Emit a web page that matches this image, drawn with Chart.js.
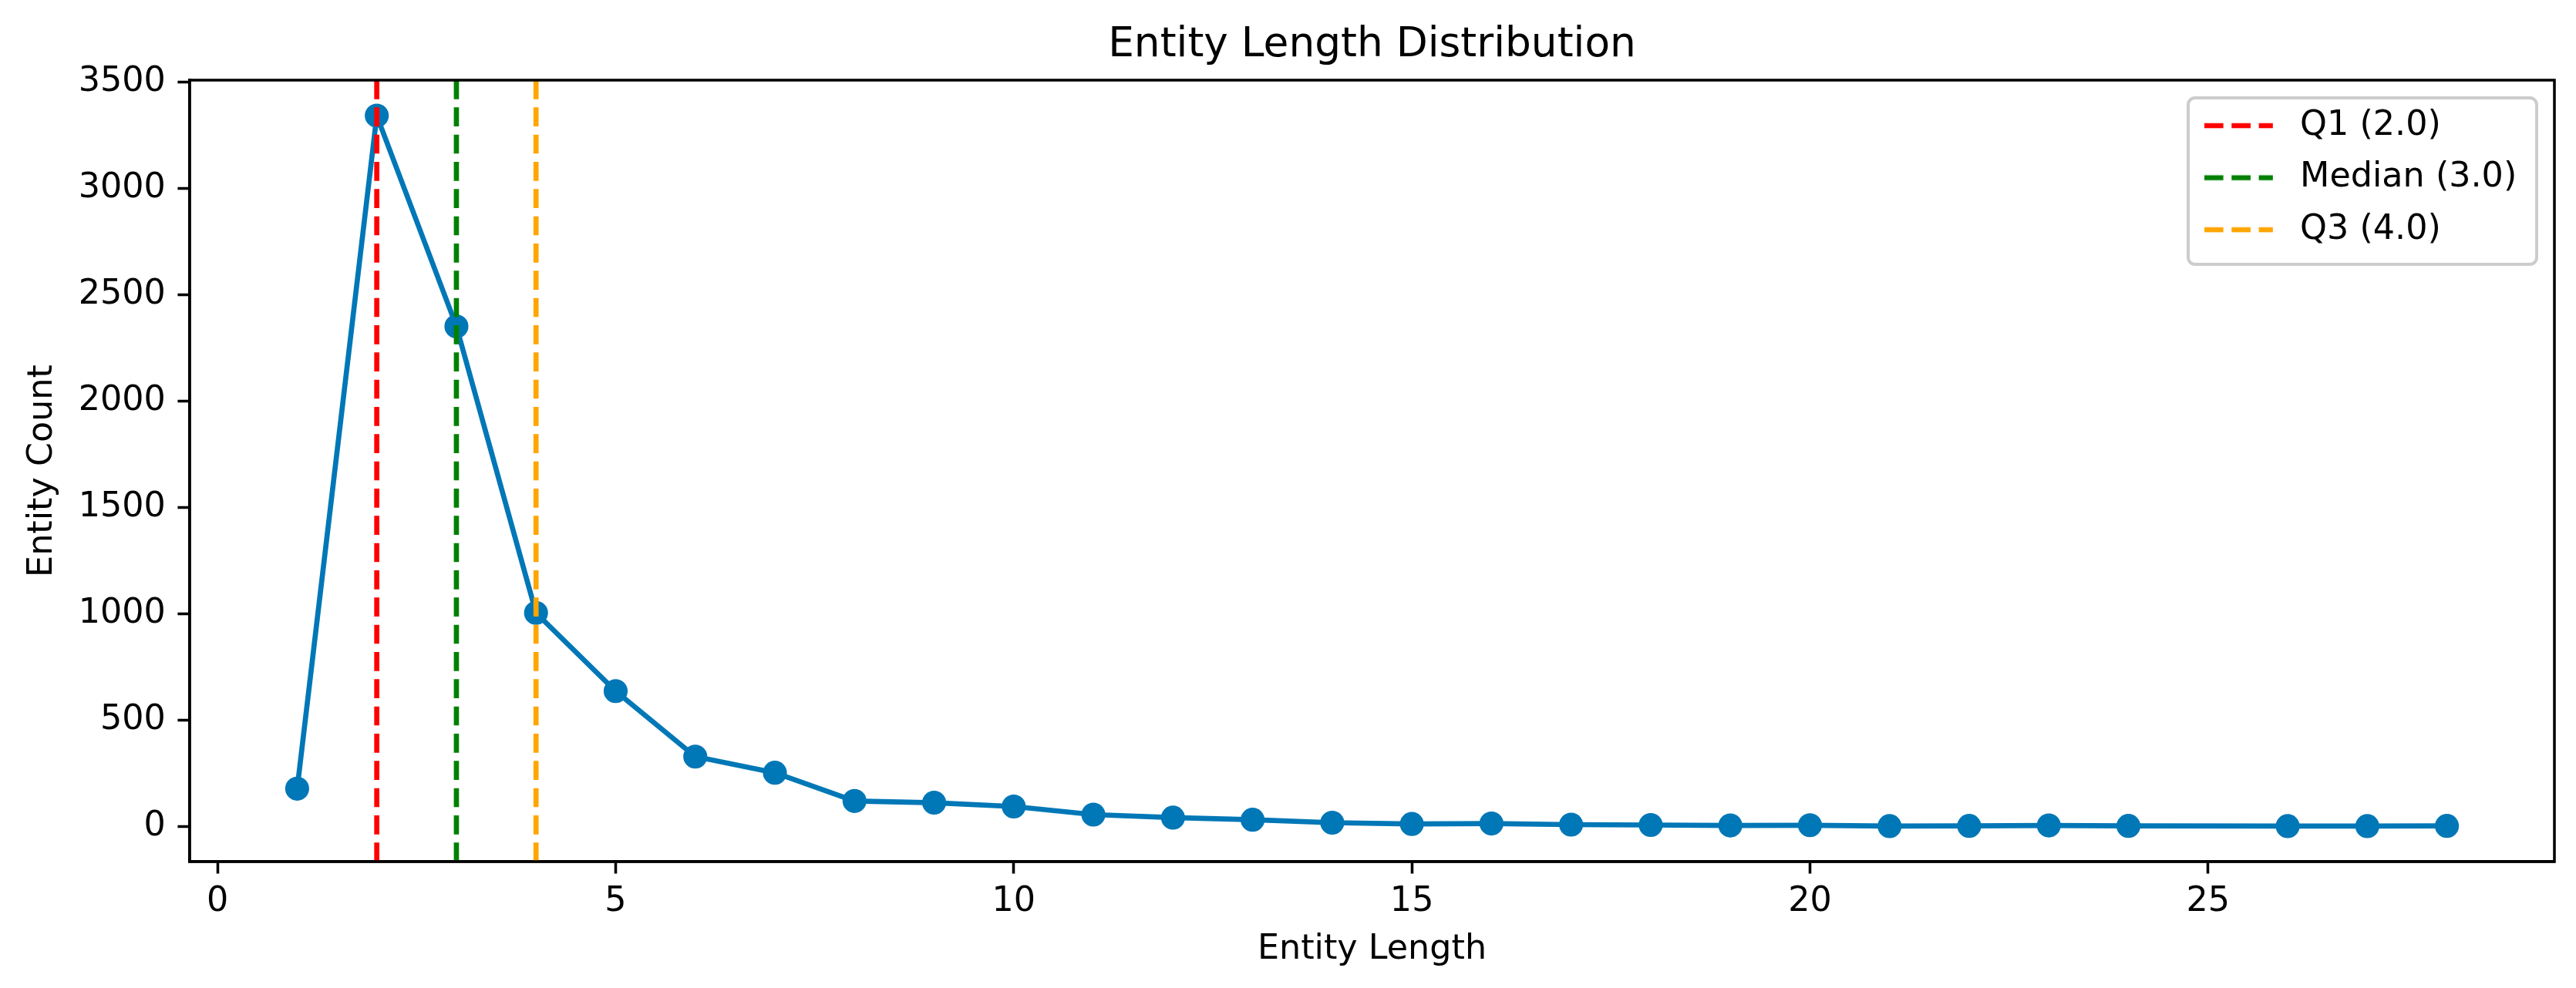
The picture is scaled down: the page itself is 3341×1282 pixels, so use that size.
<!DOCTYPE html>
<html>
<head>
<meta charset="utf-8">
<script src="https://cdn.jsdelivr.net/npm/chart.js"></script>
<style>
html,body{margin:0;padding:0;background:#fff;}
canvas{display:block;}
</style>
</head>
<body>
<canvas id="c" width="3341" height="1282" style="width:3341px;height:1282px"></canvas>
<script>
// ---------------- data ----------------
const entityLengths = [1, 2, 3, 4, 5, 6, 7, 8, 9, 10, 11, 12, 13, 14, 15, 16, 17, 18, 19, 20, 21, 22, 23, 24, 26, 27, 28];
const entityCounts  = [177, 3343, 2352, 1004, 636, 328, 252, 119, 111, 93, 55, 41, 31, 17, 11, 13, 8, 6, 4, 5, 1, 2, 4, 2, 1, 1, 2];
const quartileLabels = ['Q1 (2.0)', 'Median (3.0)', 'Q3 (4.0)'];
const quartileValues = [2.0, 3.0, 4.0];
const quartileColors = ['#ff0000', '#008000', '#ffa500'];
const xTickValues = [0, 5, 10, 15, 20, 25];
const yTickValues = [0, 500, 1000, 1500, 2000, 2500, 3000, 3500];
const chartTitle = 'Entity Length Distribution';
const xAxisTitle = 'Entity Length';
const yAxisTitle = 'Entity Count';

// axis limits following matplotlib's 5% auto margins
const xLo = Math.min(...entityLengths), xHi = Math.max(...entityLengths);
const yLo = Math.min(...entityCounts), yHi = Math.max(...entityCounts);
const xPad = 0.05 * (xHi - xLo), yPad = 0.05 * (yHi - yLo);
const xMin = xLo - xPad, xMax = xHi + xPad;
const yMin = yLo - yPad, yMax = yHi + yPad;

// ---------------- styles ----------------
const FONT = "'DejaVu Sans', 'Liberation Sans', sans-serif";
const PT = 320 / 72;              // px per point
const LW = 1.5 * PT;              // line width
const AXW = 0.8 * PT;             // spine width
const TICKLEN = 3.5 * PT;
const FS = 10 * PT;               // base font size
const DASH = [3.7 * LW, 1.6 * LW];
const BLUE = '#0077b6';

Chart.defaults.font.family = FONT;
Chart.defaults.color = '#000';

function legendHandle(color) {
  const w = 102, h = 10;
  const cv = document.createElement('canvas');
  cv.width = w; cv.height = h;
  const g = cv.getContext('2d');
  g.strokeStyle = color;
  g.lineWidth = LW;
  g.setLineDash(DASH);
  g.beginPath();
  g.moveTo(0, h / 2);
  g.lineTo(2 * FS, h / 2);
  g.stroke();
  return cv;
}

const datasets = [{
  label: yAxisTitle,
  data: entityLengths.map((x, i) => ({x: x, y: entityCounts[i]})),
  borderColor: BLUE,
  backgroundColor: BLUE,
  borderWidth: LW,
  pointRadius: 6 * PT / 2,
  pointBorderWidth: 1 * PT,
  pointBackgroundColor: BLUE,
  pointBorderColor: BLUE,
  tension: 0,
  order: 1
}];
quartileValues.forEach((q, i) => {
  datasets.push({
    label: quartileLabels[i],
    data: [{x: q, y: yMin}, {x: q, y: yMax}],
    borderColor: quartileColors[i],
    backgroundColor: quartileColors[i],
    borderWidth: LW,
    borderDash: DASH,
    pointRadius: 0,
    order: 0
  });
});

const framePlugin = {
  id: 'frame',
  afterLayout(chart) {
    const lg = chart.legend;
    if (!lg) return;
    lg.left = 2835.8; lg.top = 117.7;
    lg.right = 3300; lg.bottom = 350;
    lg.width = lg.right - lg.left; lg.height = lg.bottom - lg.top;
  },
  beforeDraw(chart) {
    const ctx = chart.ctx;
    const l = 2838, t = 127, r = 3290, b = 343, rad = 0.2 * FS;
    ctx.save();
    ctx.beginPath();
    ctx.roundRect(l, t, r - l, b - t, rad);
    ctx.fillStyle = 'rgba(255,255,255,0.8)';
    ctx.fill();
    ctx.lineWidth = 1 * PT * 0.9;
    ctx.strokeStyle = '#cccccc';
    ctx.stroke();
    ctx.restore();
  },
  afterDatasetsDraw(chart) {
    const a = chart.chartArea, ctx = chart.ctx;
    ctx.save();
    ctx.strokeStyle = '#000';
    ctx.lineWidth = AXW;
    ctx.lineJoin = 'miter';
    ctx.strokeRect(a.left, a.top, a.right - a.left, a.bottom - a.top);
    ctx.restore();
  }
};

new Chart(document.getElementById('c'), {
  type: 'line',
  data: {datasets: datasets},
  options: {
    responsive: false,
    devicePixelRatio: 1,
    animation: false,
    layout: {padding: {left: 0, right: 28, top: 0, bottom: 0}},
    plugins: {
      tooltip: {enabled: false},
      title: {
        display: true,
        text: chartTitle,
        color: '#000',
        fullSize: false,
        font: {family: FONT, size: 12 * PT, weight: 'normal', lineHeight: 1.2},
        padding: {top: 27, bottom: 13}
      },
      legend: {
        display: true,
        position: 'chartArea',
        align: 'start',
        labels: {
          usePointStyle: true,
          pointStyleWidth: 102,
          padding: 23.1,
          color: '#000',
          font: {family: FONT, size: FS},
          filter: (item) => item.datasetIndex > 0,
          generateLabels(chart) {
            const items = Chart.defaults.plugins.legend.labels.generateLabels(chart);
            items.forEach(it => { it.pointStyle = legendHandle(it.strokeStyle); });
            return items;
          }
        }
      }
    },
    scales: {
      x: {
        type: 'linear',
        min: xMin,
        max: xMax,
        afterFit(scale) { scale.height = 164; },
        afterBuildTicks(scale) { scale.ticks = xTickValues.map(v => ({value: v})); },
        ticks: {
          padding: 10.7,
          color: '#000',
          font: {family: FONT, size: FS},
          maxRotation: 0,
          callback: v => String(v)
        },
        grid: {
          display: true,
          drawOnChartArea: false,
          drawTicks: true,
          tickLength: TICKLEN,
          tickWidth: AXW,
          tickColor: '#000'
        },
        border: {display: true, color: '#000', width: AXW},
        title: {
          display: true,
          text: xAxisTitle,
          color: '#000',
          font: {family: FONT, size: FS, lineHeight: 1.2},
          padding: {top: 0, bottom: 23}
        }
      },
      y: {
        type: 'linear',
        min: yMin,
        max: yMax,
        afterFit(scale) { scale.width = 246; },
        afterBuildTicks(scale) { scale.ticks = yTickValues.map(v => ({value: v})); },
        ticks: {
          padding: TICKLEN,
          color: '#000',
          font: {family: FONT, size: FS},
          callback: v => String(v)
        },
        grid: {
          display: true,
          drawOnChartArea: false,
          drawTicks: true,
          tickLength: TICKLEN,
          tickWidth: AXW,
          tickColor: '#000'
        },
        border: {display: true, color: '#000', width: AXW},
        title: {
          display: true,
          text: yAxisTitle,
          color: '#000',
          font: {family: FONT, size: FS, lineHeight: 1.2},
          padding: {top: 29, bottom: 0}
        }
      }
    }
  },
  plugins: [framePlugin]
});
</script>
</body>
</html>
